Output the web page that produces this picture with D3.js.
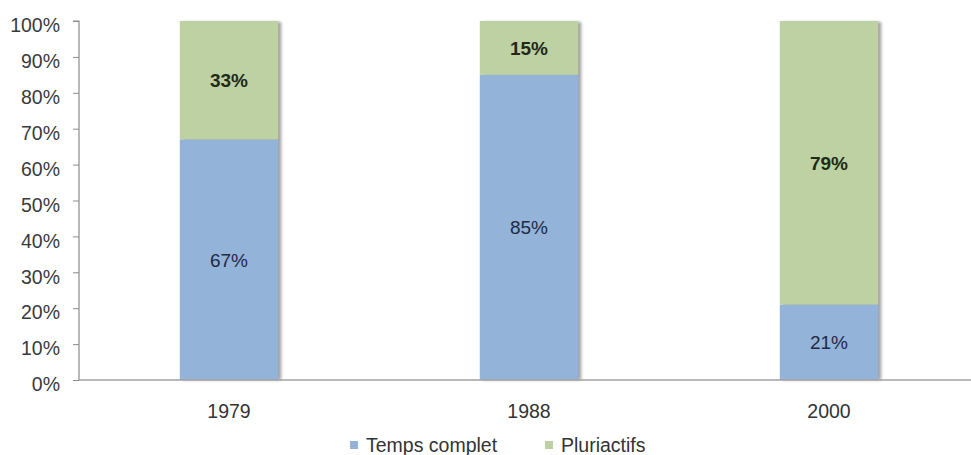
<!DOCTYPE html>
<html>
<head>
<meta charset="utf-8">
<script src="https://cdn.jsdelivr.net/npm/d3@7"></script>
<style>
  html, body { margin: 0; padding: 0; background: #fff; }
  svg { display: block; font-family: "Liberation Sans", Arial, sans-serif; }
</style>
</head>
<body>
<svg id="chart" width="971" height="455"></svg>
<script>
// Share of farm holders by activity type, per census year
const years = ["1979", "1988", "2000"];
const tempsComplet = [67, 85, 21];
const pluriactifs = [33, 15, 79];
const seriesNames = ["Temps complet", "Pluriactifs"];
const seriesColors = ["#93b3d9", "#bdd1a3"];
const yTicks = [0, 10, 20, 30, 40, 50, 60, 70, 80, 90, 100];

const svg = d3.select("#chart");
const margin = { left: 79, right: -8, top: 21, bottom: 75 };
const W = 971, H = 455;
const fontSize = 19.5;

const x = d3.scaleBand().domain(years).range([margin.left, W - margin.right]).paddingInner(0.672).paddingOuter(0.336);
const y = d3.scaleLinear().domain([0, 100]).range([H - margin.bottom, margin.top]);

const defs = svg.append("defs");
defs.append("filter").attr("id", "shadow").attr("x", "-20%").attr("width", "140%")
  .append("feGaussianBlur").attr("stdDeviation", 1.6);

const rows = years.map((yr, i) => ({ year: yr, a: tempsComplet[i], b: pluriactifs[i] }));
const stack = d3.stack().keys(["a", "b"])(rows);

// Soft shadow along the right edge of each bar
svg.append("g").selectAll("rect").data(rows).join("rect")
  .attr("x", d => x(d.year) + 3)
  .attr("y", y(100) + 1)
  .attr("width", x.bandwidth())
  .attr("height", y(0) - y(100) - 1)
  .attr("fill", "#8a8a8a")
  .attr("opacity", 0.8)
  .attr("filter", "url(#shadow)");

// Stacked segments
const layers = svg.append("g").selectAll("g").data(stack).join("g")
  .attr("fill", (d, i) => seriesColors[i]);
layers.selectAll("rect").data(d => d).join("rect")
  .attr("x", d => x(d.data.year))
  .attr("y", d => y(d[1]))
  .attr("width", x.bandwidth())
  .attr("height", d => y(d[0]) - y(d[1]));

// Axes
const yAxis = d3.axisLeft(y).tickValues(yTicks).tickFormat(d => d + "%").tickSize(6).tickPadding(13);
const gy = svg.append("g").attr("transform", `translate(${margin.left},0)`).call(yAxis);
gy.select(".domain").attr("stroke", "#8c8c8c").attr("stroke-width", 1.2).attr("d", `M-6,${y(100)}H0V${y(0)}`);
gy.selectAll(".tick line").attr("stroke", "#8c8c8c");
gy.selectAll(".tick text").attr("font-size", fontSize).attr("fill", "#3a3a3a").attr("dy", "0.55em");

const xAxis = d3.axisBottom(x).tickSize(0).tickPadding(24);
const gx = svg.append("g").attr("transform", `translate(0,${y(0)})`).call(xAxis);
gx.select(".domain").attr("stroke", "#a0a0a0").attr("stroke-width", 1.5).attr("d", `M${margin.left},0H${W}`);
gx.selectAll(".tick text").attr("font-size", fontSize).attr("fill", "#333");

// Value labels
layers.each(function(layer, li) {
  d3.select(this).selectAll("text").data(layer).join("text")
    .attr("x", d => x(d.data.year) + x.bandwidth() / 2)
    .attr("y", d => (y(d[0]) + y(d[1])) / 2)
    .attr("dy", "0.36em")
    .attr("text-anchor", "middle")
    .attr("font-size", 19)
    .attr("font-weight", li === 1 ? "bold" : "normal")
    .attr("fill", li === 1 ? "#1f2a18" : "#1e2b45")
    .text(d => (d[1] - d[0]) + "%");
});

// Legend
const legendX = [350, 545];
const legend = svg.append("g").selectAll("g").data(seriesNames).join("g")
  .attr("transform", (d, i) => `translate(${legendX[i]},445)`);
legend.append("rect").attr("x", 0).attr("y", -4).attr("width", 8).attr("height", 8)
  .attr("fill", (d, i) => seriesColors[i]);
legend.append("text").attr("x", 16).attr("dy", "0.36em").attr("font-size", fontSize).attr("fill", "#333").text(d => d);
</script>
</body>
</html>
